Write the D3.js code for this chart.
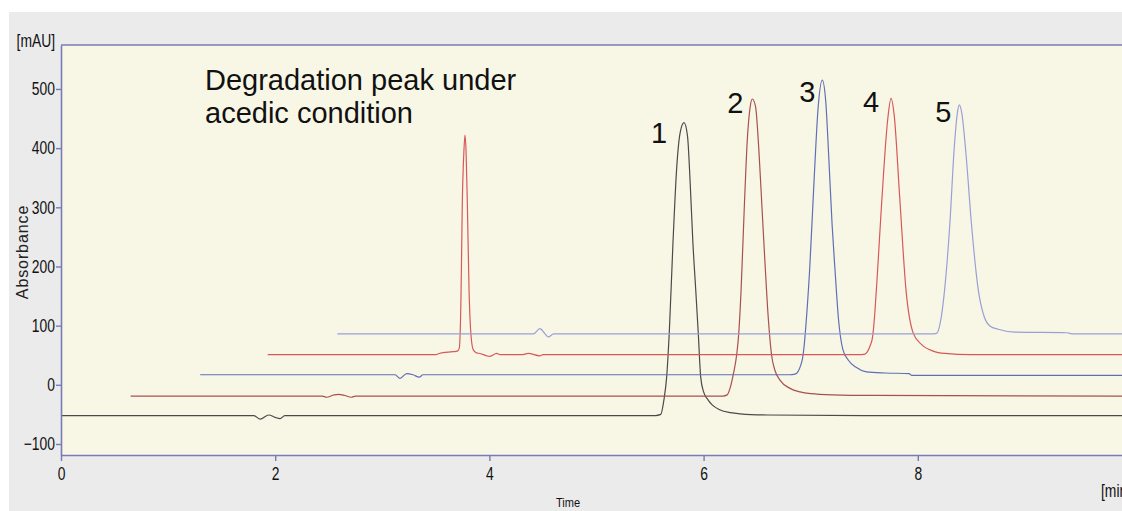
<!DOCTYPE html>
<html><head><meta charset="utf-8">
<script src="https://cdn.jsdelivr.net/npm/d3@7"></script>
<style>body{margin:0;background:#fff;} svg{display:block}</style>
</head><body>
<svg id="c" width="1122" height="511"></svg>
<script>
// ---- data (time [min], absorbance [mAU]) ----
const xTicks = [0, 2, 4, 6, 8];
const yTicks = [-100, 0, 100, 200, 300, 400, 500];
const peakLabels = ["1", "2", "3", "4", "5"];
const titleLines = ["Degradation peak under", "acedic condition"];

const trace1 = [[0,-52],[1.80,-52],[1.86,-58],[1.94,-51],[2.0,-55],[2.045,-57],[2.09,-52],[5.55,-52],[5.60,-50],[5.63,-25],[5.655,13],[5.68,90],[5.714,240],[5.75,370],[5.78,425],[5.817,443],[5.85,420],[5.875,340],[5.90,240],[5.925,165],[5.95,88],[5.973,13],[6.0,-12],[6.04,-25],[6.08,-34],[6.15,-42],[6.25,-47],[6.34,-49],[6.6,-51],[7.5,-52],[9.95,-52]];
const trace2 = [[0.65,-19],[2.44,-19],[2.48,-21],[2.55,-17],[2.59,-16],[2.65,-18],[2.71,-21],[2.75,-19],[6.18,-19],[6.22,-17],[6.25,-4],[6.28,20],[6.309,51],[6.327,84],[6.35,160],[6.38,300],[6.41,420],[6.435,470],[6.455,483],[6.485,470],[6.515,400],[6.545,300],[6.575,200],[6.605,110],[6.635,50],[6.665,25],[6.713,8],[6.807,-6],[6.9,-12],[7.0,-15],[7.2,-17],[7.6,-18],[9.95,-19]];
const trace3 = [[1.30,17],[3.12,17],[3.165,11],[3.228,19],[3.287,17],[3.345,13],[3.38,17],[6.80,17],[6.853,18],[6.88,22],[6.905,32],[6.925,46],[6.94,68],[6.955,100],[6.99,194],[7.03,340],[7.07,470],[7.108,515],[7.14,480],[7.17,380],[7.20,270],[7.227,194],[7.26,110],[7.30,60],[7.35,42],[7.42,30],[7.52,22],[7.7,20],[7.92,19],[7.94,16],[9.95,16]];
const trace4 = [[1.93,51],[3.50,51],[3.53,53],[3.66,56],[3.70,57],[3.719,62],[3.735,150],[3.747,307],[3.762,395],[3.772,422],[3.782,395],[3.794,307],[3.81,160],[3.83,80],[3.85,59],[3.88,54],[3.912,53],[3.975,49],[4.0,48],[4.068,53],[4.10,51],[4.30,51],[4.363,53],[4.47,49],[4.50,51],[7.45,51],[7.507,52],[7.53,56],[7.555,66],[7.575,78],[7.585,92],[7.60,125],[7.62,180],[7.66,300],[7.72,450],[7.75,484],[7.78,455],[7.83,320],[7.89,160],[7.958,87],[8.036,68],[8.142,57],[8.254,53],[8.487,51],[9.95,51]];
const trace5 = [[2.58,86],[4.41,86],[4.472,95],[4.52,86],[4.55,81],[4.60,86],[8.12,86],[8.176,87],[8.21,105],[8.25,160],[8.30,274],[8.34,400],[8.37,460],[8.387,473],[8.41,460],[8.45,390],[8.50,274],[8.565,160],[8.62,115],[8.676,99],[8.75,94],[8.91,89],[9.39,88],[9.45,86],[9.95,86]];
// peak apex times for labels 1..5
const labelPeakTimes = [5.817, 6.455, 7.108, 7.75, 8.387];

// ---- layout / style ----
const W = 1122, H = 511;
const L = 61, T = 45, B = 455;
const traces = [
  {d: trace1, c: "#4a4a4a"},
  {d: trace2, c: "#a85050"},
  {d: trace3, c: "#5f6fb5"},
  {d: trace4, c: "#d85858"},
  {d: trace5, c: "#9a9fd6"}
];
const traceOfLabel = [0, 1, 2, 3, 4];
const labelOffsets = [[-25, 20], [-17, 14], [-15, 22], [-20, 14], [-16, 17]];
const axisColor = "#7a7ab8";
const tickFont = "'Liberation Sans Narrow','Liberation Sans',Arial,sans-serif";

const svg = d3.select("#c");
svg.append("rect").attr("x", 9).attr("y", 12).attr("width", W - 9).attr("height", H - 12).attr("fill", "#ebebeb");

const x = d3.scaleLinear().domain([0, 10]).range([L, L + 1071]);
const y = d3.scaleLinear().domain([-118.6, 574.3]).range([B, T]);

svg.append("rect").attr("x", L).attr("y", T).attr("width", W - L).attr("height", B - T).attr("fill", "#f8f7e6");

svg.append("clipPath").attr("id", "clip").append("rect")
  .attr("x", L).attr("y", T).attr("width", W - L).attr("height", B - T);

const line = d3.line().x(d => x(d[0])).y(d => y(d[1])).curve(d3.curveMonotoneX);
const gl = svg.append("g").attr("clip-path", "url(#clip)");
traces.forEach(t => {
  gl.append("path").attr("d", line(t.d)).attr("fill", "none")
    .attr("stroke", t.c).attr("stroke-width", 1.2).attr("stroke-linejoin", "round");
});

// axes
const ya = svg.append("g").attr("transform", `translate(${L},0)`)
  .call(d3.axisLeft(y).tickValues(yTicks).tickSize(5).tickSizeOuter(0).tickPadding(3).tickFormat(d3.format("d")));
const xa = svg.append("g").attr("transform", `translate(0,${B})`)
  .call(d3.axisBottom(x).tickValues(xTicks).tickSize(6).tickSizeOuter(0).tickPadding(6).tickFormat(d3.format("d")));
[ya, xa].forEach(a => {
  a.select(".domain").attr("stroke", axisColor).attr("stroke-width", 1.6);
  a.selectAll(".tick line").attr("stroke", axisColor).attr("stroke-width", 1.4);
  a.selectAll(".tick text").attr("fill", "#111").style("font-family", tickFont).style("font-size", "18px")
    .attr("transform", "scale(0.77,1)");
});
// top border
svg.append("line").attr("x1", L).attr("x2", W).attr("y1", T).attr("y2", T)
  .attr("stroke", axisColor).attr("stroke-width", 1.6);

function scaledText(px, py, txt, anchor, size, sx) {
  svg.append("g").attr("transform", `translate(${px},${py})`)
    .append("text").attr("transform", `scale(${sx},1)`).attr("text-anchor", anchor)
    .style("font-family", tickFont).style("font-size", size + "px").attr("fill", "#111").text(txt);
}
scaledText(55, 47, "[mAU]", "end", 18, 0.77);
scaledText(1101, 497, "[min]", "start", 18, 0.77);
scaledText(568, 507, "Time", "middle", 13, 0.85);

svg.append("text").attr("transform", "translate(28,252) rotate(-90)")
  .attr("text-anchor", "middle").style("font-family", "'Liberation Sans',Arial,sans-serif")
  .style("font-size", "16px").style("letter-spacing", "0.9px").attr("fill", "#222").text("Absorbance");

// title annotation
titleLines.forEach((s, i) => {
  svg.append("text").attr("x", 205).attr("y", 90 + i * 33)
    .style("font-family", "'Liberation Sans',Arial,sans-serif").style("font-size", "29px")
    .attr("fill", "#111").text(s);
});

// peak labels
peakLabels.forEach((s, i) => {
  const tr = traces[traceOfLabel[i]].d;
  const apex = tr.find(p => p[0] === labelPeakTimes[i]);
  svg.append("text").attr("x", x(apex[0]) + labelOffsets[i][0]).attr("y", y(apex[1]) + labelOffsets[i][1])
    .attr("text-anchor", "middle")
    .style("font-family", "'Liberation Sans',Arial,sans-serif").style("font-size", "29px")
    .attr("fill", "#111").text(s);
});
</script>
</body></html>
